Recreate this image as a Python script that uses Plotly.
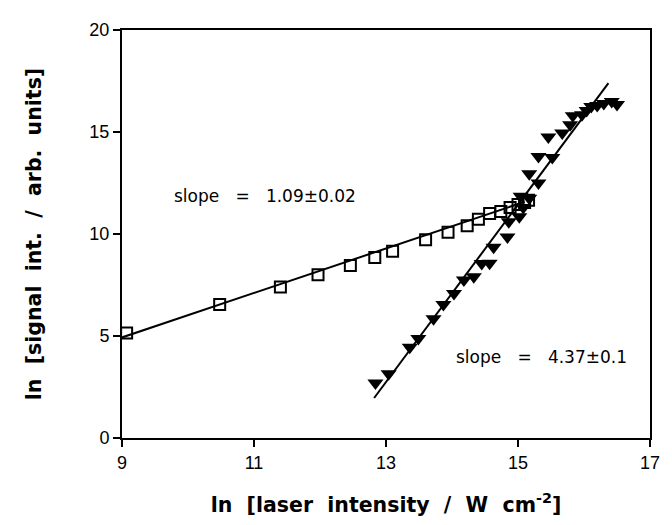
import plotly.graph_objects as go

# Open squares series
sq_x = [9.07, 10.48, 11.40, 11.97, 12.46, 12.83, 13.10, 13.60, 13.94, 14.23, 14.40,
        14.57, 14.74, 14.88, 15.00, 15.10, 15.16]
sq_y = [5.15, 6.55, 7.40, 8.00, 8.45, 8.85, 9.15, 9.72, 10.08, 10.40, 10.72,
        11.00, 11.10, 11.30, 11.45, 11.55, 11.65]

# Filled down-triangles series
tri_x = [12.84, 13.04, 13.36, 13.49, 13.72, 13.87, 14.03, 14.18, 14.33, 14.45, 14.57,
         14.63, 14.84, 14.86, 15.02, 15.08, 15.04, 15.17, 15.17, 15.31, 15.31, 15.52,
         15.46, 15.67, 15.79, 15.83, 15.97, 16.04, 16.11, 16.20, 16.30, 16.42, 16.50]
tri_y = [2.70, 3.15, 4.45, 4.88, 5.85, 6.55, 7.08, 7.75, 7.90, 8.55, 8.57,
         9.35, 9.85, 10.60, 10.85, 11.30, 11.85, 11.75, 12.95, 12.50, 13.80, 13.75,
         14.75, 14.95, 15.35, 15.80, 15.85, 16.05, 16.25, 16.30, 16.40, 16.50, 16.35]

# Fit lines (endpoints)
fit1_x = [9.0, 15.10]
fit1_y = [4.93, 11.58]
fit2_x = [12.82, 16.37]
fit2_y = [1.96, 17.40]

x_ticks = [9, 11, 13, 15, 17]
y_ticks = [0, 5, 10, 15, 20]

label1 = "slope   =   1.09±0.02"
label2 = "slope   =   4.37±0.1"
x_title = "<b>ln  [laser  intensity  /  W  cm<sup>-2</sup>]</b>"
y_title = "<b>ln  [signal  int.  /  arb.  units]</b>"

fig = go.Figure()
fig.add_trace(go.Scatter(x=fit1_x, y=fit1_y, mode="lines",
                         line=dict(color="black", width=2), showlegend=False))
fig.add_trace(go.Scatter(x=fit2_x, y=fit2_y, mode="lines",
                         line=dict(color="black", width=2), showlegend=False))
fig.add_trace(go.Scatter(x=sq_x, y=sq_y, mode="markers",
                         marker=dict(symbol="square-open", size=11, color="black",
                                     line=dict(width=2, color="black")),
                         showlegend=False))
fig.add_trace(go.Scatter(x=tri_x, y=tri_y, mode="markers",
                         marker=dict(symbol="triangle-down", size=14, color="black",
                                     line=dict(width=0)),
                         showlegend=False))

ann_font = dict(family="DejaVu Sans", size=17, color="black")
fig.add_annotation(x=11.16, y=11.87, text=label1, showarrow=False, font=ann_font)
fig.add_annotation(x=15.35, y=3.97, text=label2, showarrow=False, font=ann_font)

axis_common = dict(showline=True, linecolor="black", linewidth=2, mirror=True,
                   ticks="outside", ticklen=7, tickwidth=1.5, tickcolor="black",
                   showgrid=False, zeroline=False,
                   tickfont=dict(family="Arial", size=18, color="black"))

title_font = dict(family="DejaVu Sans", size=20.5, color="black")

fig.update_xaxes(range=[9, 17], tickvals=x_ticks,
                 title=dict(text=x_title, font=title_font, standoff=26),
                 **axis_common)
fig.update_yaxes(range=[0, 20], tickvals=y_ticks,
                 title=dict(text=y_title, font=title_font, standoff=42),
                 **axis_common)

# The page adds an 8px body margin; size the figure so the plot area lands where
# the reference draws it.
fig.update_layout(width=664, height=517,
                  margin=dict(l=114, r=16, t=12, b=87),
                  plot_bgcolor="white", paper_bgcolor="white")

fig.write_html("out.html")
